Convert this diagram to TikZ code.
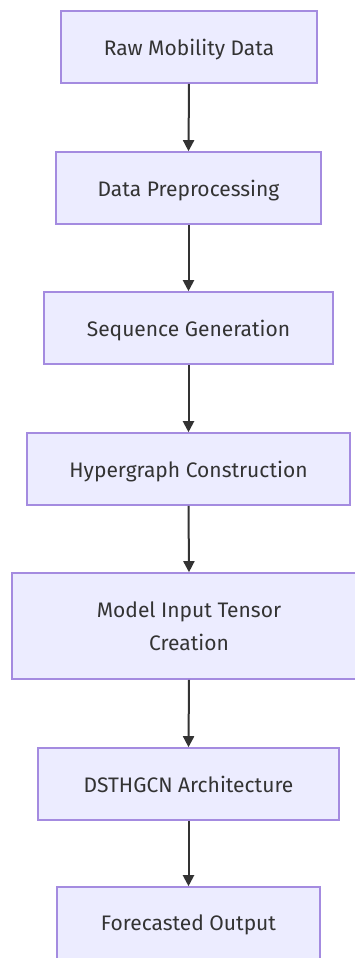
\documentclass[tikz,border=0pt]{standalone}
\usepackage{fontspec}
\setmainfont{Fira Sans}
\usetikzlibrary{arrows.meta}
\definecolor{boxfill}{HTML}{ECECFF}
\definecolor{boxline}{HTML}{A48BE0}
\definecolor{ink}{HTML}{333333}
\begin{document}
\begin{tikzpicture}[x=1pt,y=-1pt,
  stage/.style={draw=boxline,fill=boxfill,line width=1.6pt,text=ink,
    font=\fontsize{21}{33}\selectfont,align=center,inner sep=0pt,
    text depth=0pt},
  flow/.style={draw=ink,line width=2pt,-{Triangle[length=11pt,width=11pt]}}]
\useasboundingbox (0,0) rectangle (355,958);
\clip (0,0) rectangle (355,958);
% processing stages, boxes given by centre and size
\node[stage,minimum width=256pt,minimum height=72pt] (raw) at (189,47) {Raw Mobility Data};
\node[stage,minimum width=265pt,minimum height=72pt] (pre) at (188.5,188) {Data Preprocessing};
\node[stage,minimum width=289pt,minimum height=72pt] (seq) at (188.5,328) {Sequence Generation};
\node[stage,minimum width=323pt,minimum height=72pt] (hyp) at (188.5,469) {Hypergraph Construction};
\node[stage,minimum width=354pt,minimum height=106pt] (inp) at (189,626) {Model Input Tensor\\Creation};
\node[stage,minimum width=301pt,minimum height=72pt] (arch) at (188.5,784) {DSTHGCN Architecture};
\node[stage,minimum width=263pt,minimum height=72pt] (out) at (188.5,923) {Forecasted Output};
% connectors
\draw[flow] (raw.south) -- (pre.north);
\draw[flow] (pre.south) -- (seq.north);
\draw[flow] (seq.south) -- (hyp.north);
\draw[flow] (hyp.south) -- (inp.north);
\draw[flow] (inp.south) -- (arch.north);
\draw[flow] (arch.south) -- (out.north);
\end{tikzpicture}
\end{document}
